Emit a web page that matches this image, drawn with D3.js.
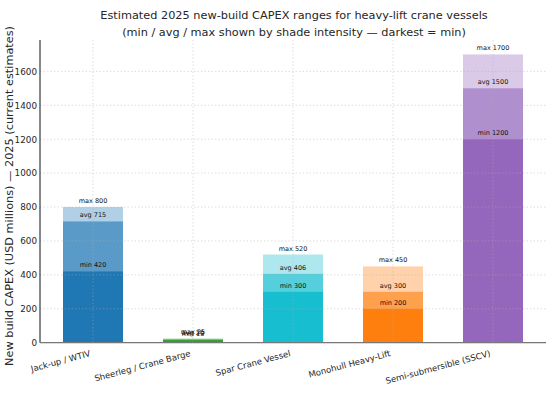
<!DOCTYPE html>
<html>
<head>
<meta charset="utf-8">
<script src="https://cdn.jsdelivr.net/npm/d3@7"></script>
<style>
  html, body { margin: 0; padding: 0; background: #fff; }
  svg { display: block; font-family: "DejaVu Sans", sans-serif; }
</style>
</head>
<body>
<svg id="chart" width="551" height="393"></svg>
<script>
const categories = ["Jack-up / WTIV", "Sheerleg / Crane Barge", "Spar Crane Vessel", "Monohull Heavy-Lift", "Semi-submersible (SSCV)"];
const minVals = [420, 15, 300, 200, 1200];
const avgVals = [715, 20, 406, 300, 1500];
const maxVals = [800, 25, 520, 450, 1700];
const baseColors = ["#1f77b4", "#2ca02c", "#17becf", "#ff7f0e", "#9467bd"];
const yTicks = [0, 200, 400, 600, 800, 1000, 1200, 1400, 1600];
const titleLines = ["Estimated 2025 new-build CAPEX ranges for heavy-lift crane vessels",
                    "(min / avg / max shown by shade intensity \u2014 darkest = min)"];
const yLabel = "New build CAPEX (USD millions) \u2014 2025 (current estimates)";

const svg = d3.select("#chart");
const mL = 40, mR = 546, mT = 40, mB = 342.7;

const x = d3.scaleLinear().domain([-0.53, 4.53]).range([mL, mR]);
const y = d3.scaleLinear().domain([0, 1785]).range([mB, mT]);
const barW = x(0.6) - x(0);

// bars: max (light), avg (medium), min (full) overlapped from zero
const layers = [
  {vals: maxVals, op: 0.35, name: "max"},
  {vals: avgVals, op: 0.6, name: "avg"},
  {vals: minVals, op: 1.0, name: "min"}
];
const gBars = svg.append("g");
layers.forEach(L => {
  gBars.selectAll(null).data(categories).enter().append("rect")
    .attr("x", (d, i) => x(i) - barW / 2)
    .attr("width", barW)
    .attr("y", (d, i) => y(L.vals[i]))
    .attr("height", (d, i) => y(0) - y(L.vals[i]))
    .attr("fill", (d, i) => baseColors[i])
    .attr("fill-opacity", L.op);
});

// grid on top
const gGrid = svg.append("g").attr("stroke", "#b0b0b0").attr("stroke-width", 0.8)
  .attr("stroke-dasharray", "1.5,2").attr("opacity", 0.5);
gGrid.selectAll(null).data(yTicks).enter().append("line")
  .attr("x1", mL).attr("x2", mR)
  .attr("y1", d => y(d)).attr("y2", d => y(d));
gGrid.selectAll(null).data(categories).enter().append("line")
  .attr("x1", (d, i) => x(i)).attr("x2", (d, i) => x(i))
  .attr("y1", mT).attr("y2", mB);

// value labels
const gLab = svg.append("g").attr("font-size", 6.5).attr("fill", "#111").attr("text-anchor", "middle");
layers.forEach(L => {
  gLab.selectAll(null).data(categories).enter().append("text")
    .attr("x", (d, i) => x(i))
    .attr("y", (d, i) => y(L.vals[i]) - 4)
    .text((d, i) => L.name + " " + L.vals[i]);
});

// y axis
const yAxis = d3.axisLeft(y).tickValues(yTicks).tickFormat(d3.format("d")).tickSize(0).tickPadding(3);
const gy = svg.append("g").attr("transform", `translate(${mL},0)`).call(yAxis);
gy.select(".domain").remove();
gy.selectAll("text").attr("font-size", 8.8).attr("fill", "#262626").attr("font-family", "DejaVu Sans");

// spines
svg.append("line").attr("x1", mL).attr("x2", mL).attr("y1", mT).attr("y2", mB)
  .attr("stroke", "#111").attr("stroke-width", 1);
svg.append("line").attr("x1", mL).attr("x2", mR).attr("y1", mB).attr("y2", mB)
  .attr("stroke", "#777").attr("stroke-width", 1.2);

// x tick labels, rotated
svg.append("g").selectAll(null).data(categories).enter().append("text")
  .attr("transform", (d, i) => `translate(${x(i) - 2},356) rotate(-15)`)
  .attr("text-anchor", "end")
  .attr("font-size", 8.5)
  .attr("fill", "#262626")
  .text(d => d);

// y label
svg.append("text")
  .attr("transform", `translate(12.5,196) rotate(-90)`)
  .attr("text-anchor", "middle")
  .attr("font-size", 10.5)
  .attr("textLength", 340)
  .attr("lengthAdjust", "spacingAndGlyphs")
  .attr("fill", "#262626")
  .text(yLabel);

// title
svg.append("g").selectAll(null).data(titleLines).enter().append("text")
  .attr("x", 294)
  .attr("y", (d, i) => 19 + i * 17)
  .attr("text-anchor", "middle")
  .attr("font-size", 11.3)
  .attr("fill", "#262626")
  .text(d => d);
</script>
</body>
</html>
